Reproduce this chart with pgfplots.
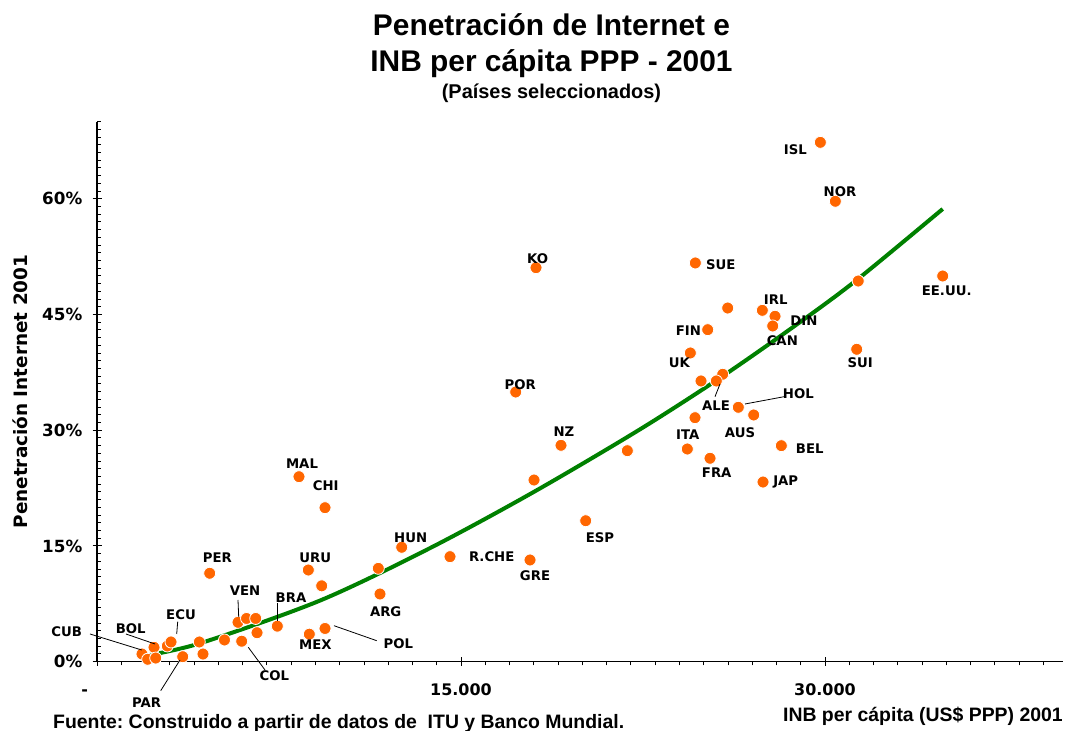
\documentclass[border=0pt]{standalone}
\usepackage{pgfplots}
\pgfplotsset{compat=1.18}
\usepackage{fontspec}
\setmainfont{DejaVu Sans}
\newfontfamily\arial{Liberation Sans}
\definecolor{dotorange}{RGB}{255,102,0}
\definecolor{trendgreen}{RGB}{0,128,0}
\frenchspacing
\begin{document}
\begin{tikzpicture}[x=1bp,y=1bp]
\useasboundingbox (0,0) rectangle (1069,731);
\begin{axis}[
  at={(97bp,69.5bp)}, anchor=south west,
  scale only axis, width=965.8bp, height=539.9bp,
  xmin=0, xmax=39800, ymin=0, ymax=70,
  scaled x ticks=false, scaled y ticks=false,
  axis lines=left, axis line style={-, line width=1.1bp, black},
  xtick={0,15000,30000},
  xticklabels={{\llap{-\hspace{9bp}}},{15.000},{30.000}},
  ytick={0,15,30,45,60},
  yticklabels={{0\%},{15\%},{30\%},{45\%},{60\%}},
  minor xtick={1000,2000,...,39000},
  minor ytick={1,2,...,70},
  tick align=center,
  major tick length=9bp, minor tick length=4bp,
  minor x tick style={yshift=-2bp}, minor y tick style={xshift=2bp},
  tick style={black, line width=0.8bp},
  ticklabel style={font=\fontsize{16}{16}\selectfont\bfseries, inner sep=0pt, text depth=0pt},
  xticklabel style={anchor=base, text height=11.7bp, yshift=-29.5bp},
  yticklabel style={anchor=east, xshift=-10bp, font=\fontsize{16.8}{16.8}\selectfont\bfseries},
  clip=false,
]
\addplot[trendgreen, line width=4bp, smooth] coordinates {
(1772,0.62) (4245,2.36) (9190,7.9) (13723,14.7) (18009,22.0) (22376,30.1)
(25785,37.0) (28970,44.0) (31361,49.6) (34851,58.67)
};
\addplot[only marks, mark=*, mark size=6bp,
  mark options={fill=dotorange, draw=white, line width=0.8bp}] table {
x y
1854 0.97
2089 0.29
2349 1.84
2419 0.45
2897 2.01
3050 2.53
3532 0.62
4216 2.53
4368 0.97
4644 11.44
5254 2.79
5811 5.08
6161 5.58
5963 2.63
6540 5.58
6594 3.73
7430 4.58
8749 3.54
9396 4.28
8708 11.86
9260 9.81
8324 23.96
9396 19.94
11592 12.08
11662 8.75
12557 14.81
14547 13.59
17844 13.16
18009 23.53
19121 28.03
21854 27.33
20139 18.25
18091 51.06
17255 34.94
24656 51.67
25991 45.83
27417 45.53
27940 44.76
27846 43.50
25167 43.02
24450 40.00
31307 40.48
31369 49.33
25784 37.24
24891 36.37
25521 36.37
26428 32.96
27063 31.96
24643 31.61
24326 27.55
28200 27.98
25262 26.35
27446 23.27
29808 67.31
30426 59.67
34851 49.98
};
\end{axis}
% leader lines
\begin{scope}[black, line width=0.8bp]
\draw (90,731-634) -- (141.7,731-650);
\draw (126,731-634) -- (155,731-644);
\draw (177.7,731-621.7) -- (176.7,731-634);
\draw (160.7,731-690.7) -- (180,731-660);
\draw (248.3,731-647.3) -- (265,731-670);
\draw (238,731-600) -- (238.7,731-617);
\draw (277.7,731-603.3) -- (277.7,731-621);
\draw (334,731-625.7) -- (376.7,731-640.7);
\draw (720,731-384) -- (715,731-396.7);
\draw (745,731-404) -- (784,731-396.7);
\end{scope}
% point labels
\foreach \t/\px/\py in {ISL/795.3/149.3, NOR/840/192, EE.UU./946.7/290.7, KO/537.7/258.3,
  SUE/720.7/265, IRL/775.7/299.3, DIN/804/321, FIN/688.3/331, CAN/782.3/340.7,
  SUI/860.3/362.3, UK/679.3/362.3, POR/520.3/384.3, HOL/798.3/393.3, ALE/716/406,
  AUS/740/432.3, NZ/564/432, ITA/687.7/435, BEL/809.7/448.3, FRA/716.7/472.7,
  JAP/785.7/481, MAL/302/464, CHI/325.7/486, ESP/600/537.7, HUN/410.7/537.3,
  R.CHE/491.7/556.7, GRE/535/575.7, PER/217.3/557.7, URU/315.3/557.7, VEN/245/591,
  BRA/291/597.7, ARG/385.7/611.7, ECU/181/615, BOL/130.7/628.3, CUB/66.7/632,
  MEX/315.3/644.3, POL/398.3/644, COL/274.3/676, PAR/146.7/702.3}
  {\node[font=\fontsize{13.3}{13.3}\selectfont\bfseries, inner sep=0pt, text height=9.7bp, text depth=0pt, anchor=center]
     at (\px,731-\py) {\t};}
% titles
\node[anchor=base, font=\arial\bfseries\fontsize{30}{30}\selectfont] at (551.5,731-36) {Penetración de Internet e};
\node[anchor=base, font=\arial\bfseries\fontsize{30}{30}\selectfont] at (551.5,731-72) {INB per cápita PPP - 2001};
\node[anchor=base, font=\arial\bfseries\fontsize{20}{20}\selectfont] at (551.5,731-99) {(Países seleccionados)};
% axis titles
\node[rotate=90, anchor=center, font=\fontsize{18.5}{18.5}\selectfont\bfseries, inner sep=0pt] at (20,731-391.5) {Penetración Internet 2001};
\node[anchor=base east, inner sep=0pt, font=\arial\bfseries\fontsize{19.5}{19.5}\selectfont] at (1063,731-721.5) {INB per cápita (US\$ PPP) 2001};
\node[anchor=base west, inner sep=0pt, font=\arial\bfseries\fontsize{19.5}{19.5}\selectfont] at (53,731-729) {Fuente: Construido a partir de datos de\ \ ITU y Banco Mundial.};
\end{tikzpicture}
\end{document}
